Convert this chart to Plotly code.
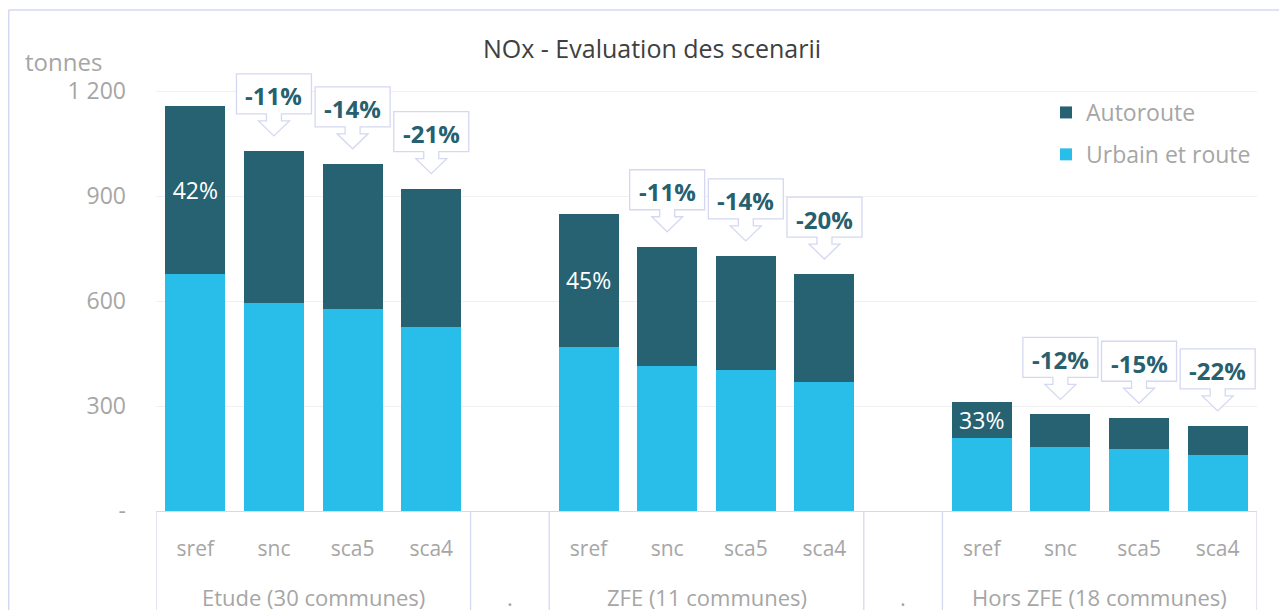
import plotly.graph_objects as go

# ---------------- data ----------------
groups = ["Etude (30 communes)", ".", "ZFE (11 communes)", ".", "Hors ZFE (18 communes)"]
scenarios = ["sref", "snc", "sca5", "sca4"]

urbain_etude = [676, 594, 576, 526]
urbain_zfe = [469, 414, 403, 368]
urbain_hors = [210, 184, 176, 159]

autoroute_etude = [481, 435, 416, 395]
autoroute_zfe = [380, 341, 326, 309]
autoroute_hors = [102, 92, 89, 84]

part_autoroute_etude = ["42%", "", "", ""]
part_autoroute_zfe = ["45%", "", "", ""]
part_autoroute_hors = ["33%", "", "", ""]

evol_etude = ["", "-11%", "-14%", "-21%"]
evol_zfe = ["", "-11%", "-14%", "-20%"]
evol_hors = ["", "-12%", "-15%", "-22%"]

y_tickvals = [0, 300, 600, 900, 1200]
y_ticktext = ["-", "300", "600", "900", "1 200"]

title_text = "NOx - Evaluation des scenarii"
unit_text = "tonnes"
name_autoroute = "Autoroute"
name_urbain = "Urbain et route"

# ---------------- build slots ----------------
group_data = {
    "Etude (30 communes)": (urbain_etude, autoroute_etude, part_autoroute_etude, evol_etude),
    "ZFE (11 communes)": (urbain_zfe, autoroute_zfe, part_autoroute_zfe, evol_zfe),
    "Hors ZFE (18 communes)": (urbain_hors, autoroute_hors, part_autoroute_hors, evol_hors),
}

slot_sub = []
xs, urb, aut, part, evol = [], [], [], [], []
runs = []  # (label, first index, last index)
for g in groups:
    start = len(slot_sub)
    if g == ".":
        slot_sub.append("")
    else:
        u, a, p, e = group_data[g]
        for j, s in enumerate(scenarios):
            xs.append(len(slot_sub))
            slot_sub.append(s)
            urb.append(u[j])
            aut.append(a[j])
            part.append(p[j])
            evol.append(e[j])
    runs.append((g, start, len(slot_sub) - 1))

n_slots = len(slot_sub)
totals = [u + a for u, a in zip(urb, aut)]

# ---------------- geometry (page offset of 8px compensated) ----------------
OFF = 8
W, H = 1287 - OFF, 610 - OFF
ML, MR, MT, MB = 156 - OFF, 30, 60 - OFF, 99
PW, PH = W - ML - MR, H - MT - MB
Y_MAX = 1200 * PH / (511 - 91)

def px2paper_x(px):  # px in page coordinates
    return (px - OFF - ML) / PW

def px2paper_y(py):
    return (H - MB - (py - OFF)) / PH

FONT = "Open Sans"
GREY = "#a6a6a6"
DARK = "#276272"
LIGHT = "#29bdea"
LAV = "#d5d8f1"
CALL_TXT = "#27606f"

fig = go.Figure()
fig.add_trace(go.Bar(
    x=xs, y=urb, name=name_urbain, legendgroup="u", legendrank=2,
    marker=dict(color=LIGHT, line=dict(width=0)),
    hoverinfo="skip",
))
fig.add_trace(go.Bar(
    x=xs, y=aut, name=name_autoroute, legendgroup="a", legendrank=1,
    marker=dict(color=DARK, line=dict(width=0)),
    text=part, textposition="inside", insidetextanchor="middle",
    textangle=0, textfont=dict(color="white", size=23, family=FONT),
    hoverinfo="skip",
))

shapes = []
annotations = []

# callouts (box + down arrow) above bars
hw, box_b, box_t = 37.5, 37, 77
stem, head_y, head_w, tip = 7.5, 30, 15.5, 15
path = (f"M{-hw},{box_b} L{-hw},{box_t} L{hw},{box_t} L{hw},{box_b} "
        f"L{stem},{box_b} L{stem},{head_y} L{head_w},{head_y} L0,{tip} "
        f"L{-head_w},{head_y} L{-stem},{head_y} L{-stem},{box_b} Z")
for x, t, e in zip(xs, totals, evol):
    if not e:
        continue
    shapes.append(dict(type="path", xref="x", yref="y", xsizemode="pixel", ysizemode="pixel",
                       xanchor=x, yanchor=t, path=path,
                       fillcolor="white", line=dict(color=LAV, width=1.3), layer="above"))
    annotations.append(dict(x=x, y=t, xref="x", yref="y", yshift=55, showarrow=False,
                            text=f"<b>{e}</b>", font=dict(size=24, color=CALL_TXT, family=FONT),
                            xanchor="center", yanchor="middle"))

# group labels and dividers
bottom = px2paper_y(610)
bounds = set([-0.5, n_slots - 0.5])
for g, a, b in runs:
    bounds.add(a - 0.5)
    bounds.add(b + 0.5)
    annotations.append(dict(x=(a + b) / 2, y=px2paper_y(597), xref="x", yref="paper",
                            text=g, showarrow=False, xanchor="center", yanchor="middle",
                            font=dict(size=22, color=GREY, family=FONT)))
for bx in sorted(bounds):
    shapes.append(dict(type="line", xref="x", yref="paper", x0=bx, x1=bx, y0=0, y1=bottom,
                       line=dict(color=LAV, width=1.3)))

# outer chart border (left + top)
shapes.append(dict(type="line", xref="paper", yref="paper",
                   x0=px2paper_x(8.7), x1=px2paper_x(8.7), y0=px2paper_y(10), y1=bottom,
                   line=dict(color=LAV, width=1.5)))
shapes.append(dict(type="line", xref="paper", yref="paper",
                   x0=px2paper_x(8.7), x1=px2paper_x(1287), y0=px2paper_y(10), y1=px2paper_y(10),
                   line=dict(color=LAV, width=1.5)))

# unit label
annotations.append(dict(x=px2paper_x(23), y=px2paper_y(62), xref="paper", yref="paper",
                        text=unit_text, showarrow=False, xanchor="left", yanchor="middle",
                        font=dict(size=24, color=GREY, family=FONT)))

fig.update_layout(
    width=W, height=H,
    margin=dict(l=ML, r=MR, t=MT, b=MB),
    paper_bgcolor="white", plot_bgcolor="white",
    barmode="stack", bargap=0.237,
    font=dict(family=FONT, color=GREY),
    title=dict(text=title_text, x=(652 - OFF) / W, xref="container", xanchor="center",
               y=1 - (49 - OFF) / H, yref="container", yanchor="middle",
               font=dict(size=25, color="#404040", family=FONT)),
    legend=dict(x=px2paper_x(1046), y=px2paper_y(91), xanchor="left", yanchor="top",
                traceorder="grouped", tracegroupgap=9,
                font=dict(size=23, color=GREY, family=FONT), bgcolor="rgba(0,0,0,0)"),
    uniformtext=dict(minsize=23, mode="show"),
    shapes=shapes, annotations=annotations,
)
fig.update_xaxes(range=[-0.5, n_slots - 0.5], tickmode="array",
                 tickvals=list(range(n_slots)), ticktext=slot_sub,
                 showline=True, linecolor=LAV, linewidth=1.3, showgrid=False, zeroline=False,
                 ticks="", ticklabelstandoff=19,
                 tickfont=dict(size=21, color=GREY, family=FONT))
fig.update_yaxes(range=[0, Y_MAX], tickmode="array", tickvals=y_tickvals, ticktext=y_ticktext,
                 showgrid=True, gridcolor="#f0f0f0", gridwidth=1, zeroline=False, showline=False,
                 ticks="", ticklabelstandoff=29,
                 tickfont=dict(size=23, color=GREY, family=FONT))

fig.write_html("out.html")
